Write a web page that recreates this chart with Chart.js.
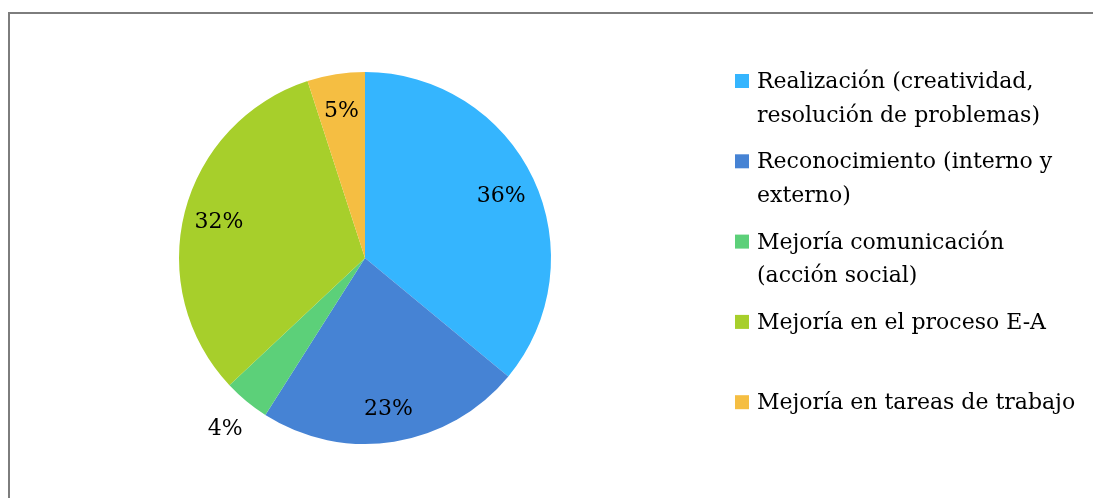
<!DOCTYPE html>
<html>
<head>
<meta charset="utf-8">
<script src="https://cdn.jsdelivr.net/npm/chart.js@4/dist/chart.umd.min.js"></script>
<style>
  html, body { margin: 0; padding: 0; background: #fff; }
  #wrap { position: relative; width: 1093px; height: 498px; overflow: hidden; }
  #frame { position: absolute; left: 8px; top: 12px; width: 1200px; height: 600px;
           border-top: 2px solid #7d7d7d; border-left: 2px solid #7d7d7d; box-sizing: border-box; }
  canvas { position: absolute; left: 0; top: 0; }
</style>
</head>
<body>
<div id="wrap">
  <div id="frame"></div>
  <canvas id="c" width="1093" height="498"></canvas>
</div>
<script>
const categories = [
  ["Realización (creatividad,", "resolución de problemas)"],
  ["Reconocimiento (interno y", "externo)"],
  ["Mejoría comunicación", "(acción social)"],
  ["Mejoría en el proceso E-A"],
  ["Mejoría en tareas de trabajo"]
];
const values = [36, 23, 4, 32, 5];
const valueLabels = ["36%", "23%", "4%", "32%", "5%"];
const colors = ["#35B5FE", "#4683D4", "#5CD079", "#A7CF2B", "#F5BE42"];

const FONT = '22px "DejaVu Serif"';

const pctLabels = {
  id: 'pctLabels',
  afterDatasetsDraw(chart) {
    const ctx = chart.ctx;
    const meta = chart.getDatasetMeta(0);
    ctx.save();
    ctx.font = FONT;
    ctx.fillStyle = '#000';
    ctx.textAlign = 'center';
    ctx.textBaseline = 'middle';
    const total = values.reduce((a, b) => a + b, 0);
    meta.data.forEach((arc, i) => {
      const p = arc.getProps(['x', 'y', 'startAngle', 'endAngle', 'outerRadius'], true);
      const mid = (p.startAngle + p.endAngle) / 2;
      const share = values[i] / total;
      const f = share < 0.045 ? 1.18 : 0.81;
      const r = p.outerRadius * f;
      ctx.fillText(valueLabels[i], p.x + Math.cos(mid) * r, p.y + Math.sin(mid) * r + 2);
    });
    ctx.restore();
  }
};

const sideLegend = {
  id: 'sideLegend',
  afterDraw(chart) {
    const ctx = chart.ctx;
    ctx.save();
    ctx.font = FONT;
    ctx.textAlign = 'left';
    ctx.textBaseline = 'alphabetic';
    const x0 = 735, box = 14, tx = 757, top = 88, itemStep = 80.3, lineStep = 33.5;
    categories.forEach((lines, i) => {
      const base = top + i * itemStep;
      ctx.fillStyle = colors[i];
      ctx.fillRect(x0, base - box, box, box);
      ctx.fillStyle = '#000';
      lines.forEach((t, j) => ctx.fillText(t, tx, base + j * lineStep));
    });
    ctx.restore();
  }
};

new Chart(document.getElementById('c'), {
  type: 'pie',
  data: {
    labels: categories.map(l => l.join(' ')),
    datasets: [{
      data: values,
      backgroundColor: colors,
      borderWidth: 0,
      hoverOffset: 0
    }]
  },
  options: {
    responsive: false,
    animation: false,
    devicePixelRatio: 1,
    layout: { padding: { left: 179, right: 542, top: 72, bottom: 54 } },
    plugins: {
      legend: { display: false },
      tooltip: { enabled: false }
    },
    events: []
  },
  plugins: [pctLabels, sideLegend]
});
</script>
</body>
</html>
